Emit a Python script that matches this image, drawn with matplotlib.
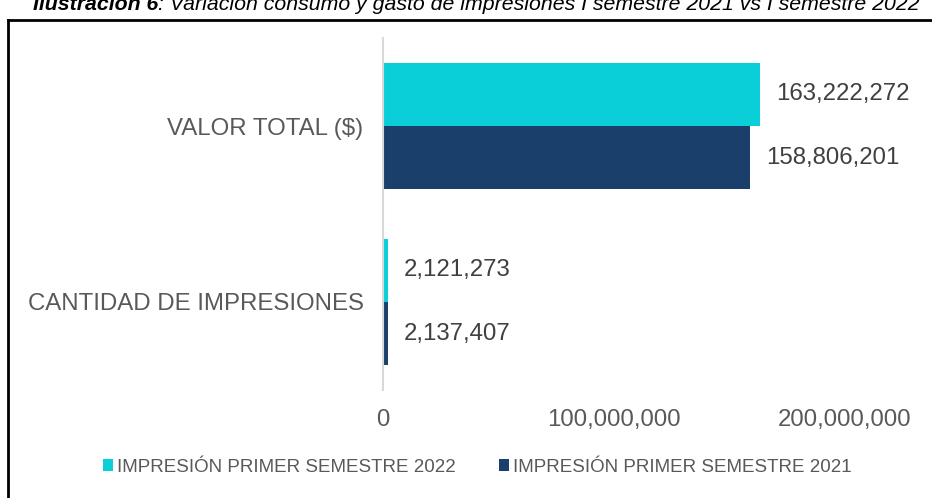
import matplotlib.pyplot as plt
from matplotlib.lines import Line2D

categories = ['CANTIDAD DE IMPRESIONES', 'VALOR TOTAL ($)']
serie_2022 = [2121273, 163222272]
serie_2021 = [2137407, 158806201]
labels = ['IMPRESIÓN PRIMER SEMESTRE 2022', 'IMPRESIÓN PRIMER SEMESTRE 2021']
xticks = [0, 100000000, 200000000]

c22 = '#0BCFD8'
c21 = '#1A3F6A'
plt.rcParams['font.family'] = ['Liberation Sans', 'DejaVu Sans']

fig = plt.figure(figsize=(9.32, 4.98), dpi=100)
ax = fig.add_axes([383/932, 1-390/498, (845-383)/932, (390-38)/498])

fs = 17.3
h = 0.36
pos = [0, 1]
ax.barh([p + h/2 for p in pos], serie_2022, height=h, color=c22, label=labels[0])
ax.barh([p - h/2 for p in pos], serie_2021, height=h, color=c21, label=labels[1])

# etiquetas de valor
for p, v in zip(pos, serie_2022):
    ax.text(v + 7e6, p + h/2, f'{v:,}', va='center', ha='left', fontsize=fs, color='#404040')
for p, v in zip(pos, serie_2021):
    ax.text(v + 7e6, p - h/2, f'{v:,}', va='center', ha='left', fontsize=fs, color='#404040')

ax.set_xlim(0, 200000000)
ax.set_ylim(-0.5, 1.5)
ax.set_xticks(xticks)
ax.set_xticklabels([f'{t:,}' for t in xticks], fontsize=fs, color='#595959')
ax.set_yticks(pos)
ax.set_yticklabels(categories, fontsize=fs, color='#595959')
ax.tick_params(axis='y', length=0, pad=14)
ax.tick_params(axis='x', length=0, pad=14)
for s in ['top', 'right', 'bottom']:
    ax.spines[s].set_visible(False)
ax.spines['left'].set_color('#D9D9D9')
ax.spines['left'].set_linewidth(1.5)

fig.legend(loc='center', bbox_to_anchor=(477/932, 1-467/498), ncol=2, frameon=False,
           fontsize=13.5, labelcolor='#595959', handlelength=0.55, handleheight=0.55,
           handletextpad=0.2, columnspacing=2.3)

# titulo (cortado arriba como en el original)
t1 = fig.text(33/932, 1-10/498, 'Ilustración 6', fontsize=15.3, fontweight='bold',
              fontstyle='italic', va='baseline', ha='left')
fig.canvas.draw()
bb = t1.get_window_extent()
fig.text(bb.x1/932, 1-10/498, ': Variación consumo y gasto de impresiones I semestre 2021 vs I semestre 2022',
         fontsize=15.3, fontstyle='italic', va='baseline', ha='left')

fig.add_artist(Line2D([8/932, 1], [1-20/498, 1-20/498], color='black', lw=2, transform=fig.transFigure))
fig.add_artist(Line2D([8/932, 8/932], [0, 1-20/498], color='black', lw=2, transform=fig.transFigure))

fig.savefig('out.png', dpi=100)
